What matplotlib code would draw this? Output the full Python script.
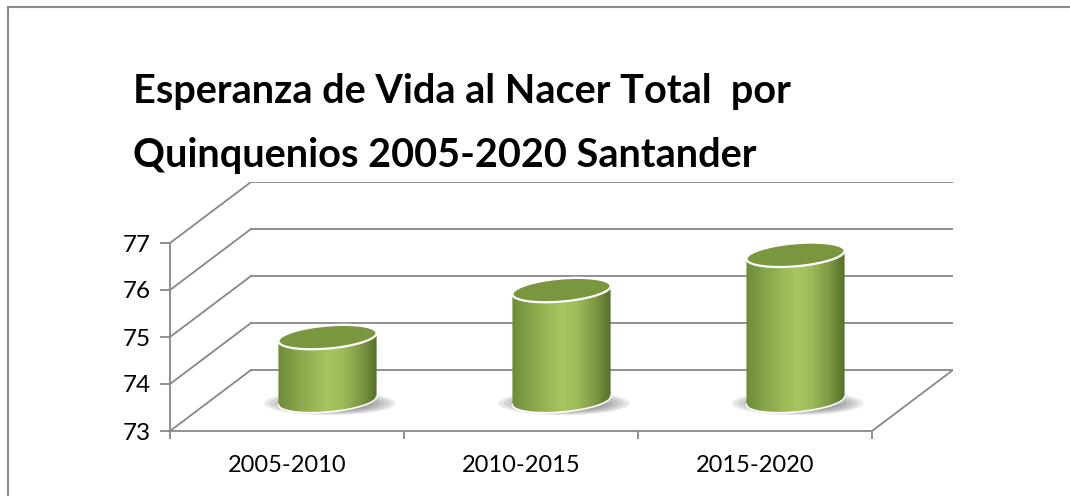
import numpy as np
import matplotlib.pyplot as plt
from matplotlib.patches import Polygon, Ellipse, Rectangle
from matplotlib.colors import LinearSegmentedColormap

# datos
categorias = ['2005-2010', '2010-2015', '2015-2020']
esperanza = [74.35, 75.35, 76.1]
yticks = [73, 74, 75, 76, 77]
titulo = ['Esperanza de Vida al Nacer Total  por',
          'Quinquenios 2005-2020 Santander']

W, H = 1070, 496
fig = plt.figure(figsize=(W / 100, H / 100), dpi=100)

# ejes: frente del grafico 3D, mas la profundidad (pared trasera)
x_px, y_px = 702 / 3, 188 / 4          # pixeles por unidad
DX, DY = 81 / x_px, 61 / y_px          # desplazamiento de profundidad
ymin, ymax = yticks[0], yticks[-1]
n = len(categorias)
ax = fig.add_axes([170 / W, 65 / H, (702 + 81) / W, (188 + 61) / H])
ax.set_xlim(0, n + DX)
ax.set_ylim(ymin, ymax + DY)
ax.set_facecolor('none')

grid_c = '#878787'


def proj(x, v, d):
    return x + d * DX, v + d * DY


# pared trasera, pared lateral y piso
for v in yticks:
    x0, y0 = proj(0, v, 1)
    x1, y1 = proj(n, v, 1)
    ax.plot([x0, x1], [y0, y1], color=grid_c, lw=1.3, zorder=1)
    xa, ya = proj(0, v, 0)
    ax.plot([xa, x0], [ya, y0], color=grid_c, lw=1.3, zorder=1)
xa, ya = proj(n, ymin, 0)
xb, yb = proj(n, ymin, 1)
ax.plot([xa, xb], [ya, yb], color=grid_c, lw=1.3, zorder=1)

for s in ['top', 'right']:
    ax.spines[s].set_visible(False)
ax.spines['left'].set_bounds(ymin, ymax)
ax.spines['bottom'].set_bounds(0, n)
for s in ['left', 'bottom']:
    ax.spines[s].set_color(grid_c)
    ax.spines[s].set_linewidth(1.3)
    ax.spines[s].set_zorder(2)

ax.set_yticks(yticks)
ax.set_yticklabels([str(v) for v in yticks])
ax.tick_params(axis='y', length=7, width=1.3, color=grid_c, pad=7,
               labelsize=17.5, labelcolor='black')
ax.set_xticks(np.arange(n + 1))
ax.set_xticklabels([])
ax.set_xticks(np.arange(n) + 0.5, minor=True)
ax.set_xticklabels(categorias, minor=True)
ax.tick_params(axis='x', which='major', length=6, width=1.3, color=grid_c)
ax.tick_params(axis='x', which='minor', length=0, pad=17, labelsize=17)
for lab in ax.get_xticklabels(minor=True) + ax.get_yticklabels():
    lab.set_fontfamily('Lato')

# cilindros
cmap = LinearSegmentedColormap.from_list('verde', [
    (0.0, '#6f8b3a'), (0.2, '#87a64a'), (0.5, '#a6c560'),
    (0.65, '#9fbd5a'), (0.85, '#7b9742'), (1.0, '#556f2a')])
grad = np.linspace(0, 1, 256).reshape(1, -1)

rx, rd = 0.198, 0.2
t0 = np.arctan(rd * DX / rx)
t_full = np.linspace(0, 2 * np.pi, 200)
t_front = np.linspace(t0 + np.pi, t0 + 2 * np.pi, 100)


def elipse(xc, v, t):
    ex = xc + rx * np.cos(t) + (0.5 + rd * np.sin(t)) * DX
    ey = v + (0.5 + rd * np.sin(t)) * DY
    return ex, ey


for i, val in enumerate(esperanza):
    xc = i + 0.5
    # sombra
    sx, sy = proj(xc, ymin, 0.5)
    for k in range(8):
        f = 1 - k / 12
        ax.add_patch(Ellipse((sx + 0.01, sy - 0.06), 0.56 * f, 0.5 * f,
                             facecolor='#333333', edgecolor='none',
                             alpha=0.11, zorder=3))
    bx, by = elipse(xc, ymin, t_front)
    tx, ty = elipse(xc, val, t_front[::-1])
    body = Polygon(np.column_stack([np.r_[bx, tx], np.r_[by, ty]]),
                   closed=True, facecolor='none', edgecolor='none', zorder=4)
    ax.add_patch(body)
    im = ax.imshow(grad, cmap=cmap, aspect='auto', zorder=4,
                   extent=[bx.min(), bx.max(), ymin, val + DY],
                   interpolation='bilinear')
    im.set_clip_path(body)
    ax.plot(bx, by, color='white', lw=1.2, zorder=5)
    ex, ey = elipse(xc, val, t_full)
    ax.add_patch(Polygon(np.column_stack([ex, ey]), closed=True,
                         facecolor='#7a9740', edgecolor='white', lw=1.6,
                         zorder=6))

ax.set_xlim(0, n + DX)
ax.set_ylim(ymin, ymax + DY)

# titulo
fig.text(133 / W, 1 - 103 / H, titulo[0], fontsize=28.5, fontweight='bold',
         family='Lato', ha='left', va='baseline')
fig.text(133 / W, 1 - 167 / H, titulo[1], fontsize=28.5, fontweight='bold',
         family='Lato', ha='left', va='baseline')

# marco
fig.patches.append(Rectangle((8 / W, -0.1), 1.2, 1 - 7 / H + 0.1,
                             transform=fig.transFigure, fill=False,
                             edgecolor='#8a8a8a', lw=1.5))

fig.savefig('out.png', dpi=100)
